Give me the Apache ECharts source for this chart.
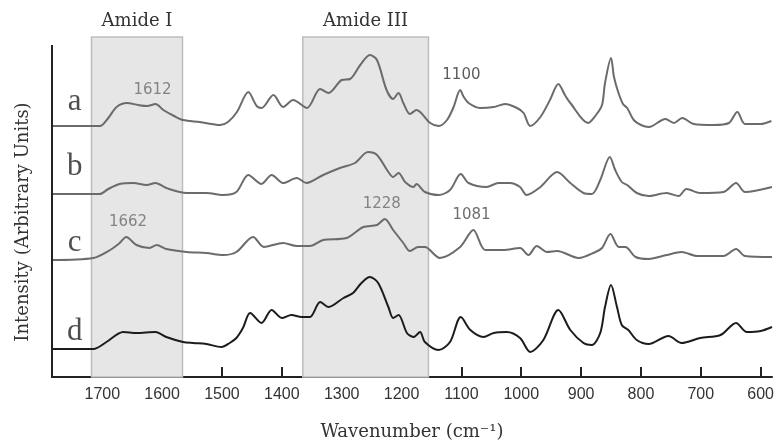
<!DOCTYPE html>
<html>
<head>
<meta charset="utf-8">
<script src="https://cdn.jsdelivr.net/npm/echarts@6/dist/echarts.min.js"></script>
<style>html,body{margin:0;padding:0;background:#fff;}#c{width:778px;height:447px;}</style>
</head>
<body>
<div id="c"></div>
<script>
// Wavenumber tick labels
const tickValues = [600, 700, 800, 900, 1000, 1100, 1200, 1300, 1400, 1500, 1600, 1700];

// Trace a
const aWave = [1784,1740,1704,1690,1676,1659,1640,1625,1611,1598,1580,1565,1537,1503,1490,1475,1456,1442,1434,1414,1398,1381,1358,1336,1322,1300,1286,1269,1253,1241,1225,1214,1205,1197,1186,1175,1152,1138,1124,1113,1102,1096,1088,1069,1046,1027,1007,996,985,968,952,938,927,918,888,875,865,860,850,845,838,830,823,812,800,787,759,745,731,712,679,653,639,626,600,582];
const aVal  = [251,251,251,259,270,274,272,271,273,267,261,257,255,252,255,265,285,271,269,282,270,277,269,288,284,297,298,312,322,317,287,278,284,274,263,267,254,251,257,270,287,280,274,269,270,273,269,264,251,260,277,293,282,274,254,262,272,294,319,300,285,273,269,257,252,250,258,254,259,253,252,254,265,253,253,256];

// Trace b
const bWave = [1784,1704,1690,1671,1648,1626,1611,1593,1559,1526,1498,1476,1456,1434,1417,1398,1375,1359,1331,1303,1278,1256,1241,1222,1214,1205,1194,1180,1175,1161,1138,1119,1101,1088,1058,1038,1019,1002,991,968,940,918,896,882,868,852,843,832,823,807,787,757,737,724,701,662,641,626,581];
const bVal  = [183,183,188,193,194,192,194,189,184,184,182,185,202,193,202,194,199,194,202,209,214,225,222,205,200,204,195,190,193,185,182,187,203,194,190,194,194,190,182,190,205,194,184,183,197,220,207,195,192,184,181,184,181,188,184,185,194,185,190];

// Trace c
const cWave = [1784,1715,1687,1671,1660,1643,1621,1609,1593,1559,1526,1498,1476,1448,1430,1398,1375,1353,1331,1292,1264,1241,1228,1214,1197,1186,1172,1161,1136,1102,1080,1060,1030,1002,988,974,957,940,904,876,865,851,837,826,809,787,757,732,706,662,641,626,581];
const cVal  = [117,119,127,134,140,132,129,132,128,125,124,122,125,140,130,134,131,131,137,139,150,152,158,147,134,126,130,130,119,130,147,127,127,129,122,131,125,126,119,125,129,143,130,130,120,118,122,125,121,121,128,121,120];

// Trace d
const dWave = [1784,1715,1693,1665,1643,1611,1593,1565,1548,1526,1501,1487,1476,1465,1453,1434,1417,1400,1384,1367,1353,1336,1322,1297,1281,1267,1253,1239,1222,1214,1205,1191,1180,1169,1161,1138,1119,1101,1085,1063,1046,1024,1002,985,963,938,918,896,882,868,860,850,840,832,821,807,787,754,732,701,667,641,623,600,581];
const dVal  = [28,28,35,45,44,45,40,35,34,33,30,34,39,49,64,54,67,59,62,60,60,75,70,79,84,94,100,94,70,59,62,44,40,45,35,27,35,60,47,40,44,45,39,25,37,67,47,34,32,44,70,92,70,52,47,37,33,41,34,39,42,54,45,46,50];

// Shaded regions
const regionNames = ['Amide I', 'Amide III'];
const regionStart = [1718, 1365];
const regionEnd   = [1566, 1155];

// Peak annotations
const annotText = ['1612', '1662', '1228', '1100', '1081'];
const annotX    = [1616, 1657, 1233, 1100, 1083];
const annotY    = [287, 155, 173, 302, 162];
const annotColor = ['#6a6a6a', '#6a6a6a', '#6a6a6a', '#333333', '#4a4a4a'];

// Trace letters
const letterText = ['a', 'b', 'c', 'd'];
const letterX    = [1746, 1746, 1746, 1746];
const letterY    = [275, 210, 134, 45];

const zip = (xs, ys) => xs.map((x, i) => [x, ys[i]]);
const grayLine = { color: '#6b6b6b', width: 2 };
const blackLine = { color: '#1c1c1c', width: 2 };

const chart = echarts.init(document.getElementById('c'), null, { renderer: 'canvas' });
chart.setOption({
  animation: false,
  backgroundColor: '#fff',
  grid: { left: 52, right: 6, top: 37, bottom: 70 },
  xAxis: {
    type: 'value', inverse: true, min: 581, max: 1784,
    splitLine: { show: false },
    axisLine: { show: true, lineStyle: { color: '#222', width: 2 } },
    axisTick: { show: true, inside: true, length: 10, lineStyle: { color: '#222', width: 2 }, customValues: tickValues },
    axisLabel: { customValues: tickValues, formatter: v => String(v), fontFamily: 'Liberation Sans', fontSize: 16, color: '#333', margin: 10 },
    name: 'Wavenumber (cm⁻¹)', nameLocation: 'middle', nameGap: 46,
    nameTextStyle: { fontFamily: 'DejaVu Serif', fontSize: 18, color: '#333' }
  },
  yAxis: { type: 'value', min: 0, max: 340, show: false },
  graphic: [
    { type: 'line', shape: { x1: 52, y1: 45, x2: 52, y2: 378 }, style: { stroke: '#222', lineWidth: 2 }, z: 10 },
    { type: 'text', x: 23, y: 222, rotation: Math.PI / 2,
      style: { text: 'Intensity (Arbitrary Units)', fontFamily: 'DejaVu Serif', fontSize: 18, fill: '#333', align: 'center', verticalAlign: 'middle' } }
  ],
  series: [
    {
      type: 'line', data: [], z: 1, silent: true,
      markArea: {
        silent: true,
        itemStyle: { color: '#e6e6e6', borderColor: '#bdbdbd', borderWidth: 1.5 },
        label: { show: true, position: 'top', distance: 6, fontFamily: 'DejaVu Serif', fontSize: 18, color: '#333' },
        data: regionNames.map((n, i) => [{ name: n, xAxis: regionStart[i], yAxis: 0 }, { xAxis: regionEnd[i], yAxis: 340 }])
      }
    },
    { name: 'a', type: 'line', z: 3, data: zip(aWave, aVal), showSymbol: false, smooth: 0.3, lineStyle: grayLine },
    { name: 'b', type: 'line', z: 3, data: zip(bWave, bVal), showSymbol: false, smooth: 0.3, lineStyle: grayLine },
    { name: 'c', type: 'line', z: 3, data: zip(cWave, cVal), showSymbol: false, smooth: 0.3, lineStyle: grayLine },
    { name: 'd', type: 'line', z: 3, data: zip(dWave, dVal), showSymbol: false, smooth: 0.3, lineStyle: blackLine },
    {
      type: 'scatter', z: 5, symbolSize: 0, silent: true,
      data: annotText.map((t, i) => ({ name: t, value: [annotX[i], annotY[i]],
        label: { color: annotColor[i] } })),
      label: { show: true, position: 'inside', formatter: p => p.name, fontFamily: 'DejaVu Sans', fontSize: 15 }
    },
    {
      type: 'scatter', z: 5, symbolSize: 0, silent: true,
      data: letterText.map((t, i) => ({ name: t, value: [letterX[i], letterY[i]] })),
      label: { show: true, position: 'inside', formatter: p => p.name, fontFamily: 'Liberation Serif', fontSize: 31, color: '#222' }
    }
  ]
});
</script>
</body>
</html>
